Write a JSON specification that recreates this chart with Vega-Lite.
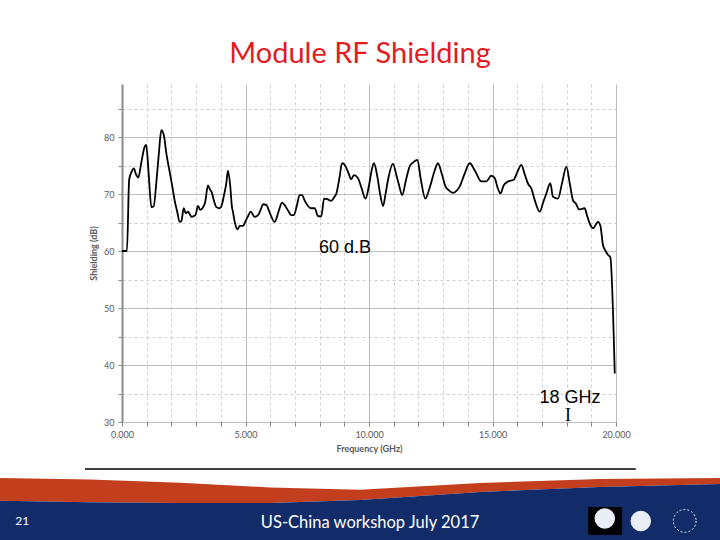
{
  "$schema": "https://vega.github.io/schema/vega-lite/v6.json",
  "background": "white",
  "padding": {"left": 0, "right": 0, "top": 40, "bottom": 0},
  "title": {"text": "Module RF Shielding", "fontSize": 29, "font": "Lato", "fontWeight": "normal", "color": "#e31b23", "anchor": "middle", "offset": 15},
  "config": {"view": {"stroke": null}, "font": "Lato"},
  "spacing": 11,
  "datasets": {
    "shielding": [
      {"f":0.00,"dB":60.0},{"f":0.20,"dB":60.0},{"f":0.29,"dB":72.5},{"f":0.38,"dB":73.8},{"f":0.48,"dB":74.5},
      {"f":0.57,"dB":73.4},{"f":0.66,"dB":72.9},{"f":0.78,"dB":75.5},{"f":0.92,"dB":78.3},{"f":0.98,"dB":78.6},
      {"f":1.08,"dB":73.5},{"f":1.19,"dB":67.7},{"f":1.28,"dB":67.8},{"f":1.40,"dB":72.5},{"f":1.50,"dB":77.5},
      {"f":1.59,"dB":81.2},{"f":1.69,"dB":80.4},{"f":1.80,"dB":77.0},{"f":1.93,"dB":73.9},{"f":2.05,"dB":71.0},
      {"f":2.13,"dB":68.9},{"f":2.24,"dB":66.8},{"f":2.33,"dB":65.1},{"f":2.40,"dB":65.2},{"f":2.50,"dB":67.5},
      {"f":2.58,"dB":66.6},{"f":2.67,"dB":66.9},{"f":2.75,"dB":66.4},{"f":2.81,"dB":66.0},{"f":2.97,"dB":66.3},
      {"f":3.08,"dB":67.9},{"f":3.17,"dB":67.2},{"f":3.27,"dB":67.6},{"f":3.37,"dB":68.6},{"f":3.48,"dB":71.5},
      {"f":3.56,"dB":70.8},{"f":3.64,"dB":70.2},{"f":3.73,"dB":68.7},{"f":3.82,"dB":67.7},{"f":3.95,"dB":67.5},
      {"f":4.05,"dB":68.2},{"f":4.13,"dB":69.8},{"f":4.22,"dB":71.8},{"f":4.29,"dB":74.1},{"f":4.38,"dB":71.5},
      {"f":4.45,"dB":67.8},{"f":4.49,"dB":66.9},{"f":4.58,"dB":64.8},{"f":4.67,"dB":63.8},{"f":4.77,"dB":64.4},
      {"f":4.90,"dB":64.4},{"f":5.00,"dB":65.2},{"f":5.10,"dB":66.1},{"f":5.21,"dB":66.9},{"f":5.37,"dB":66.0},
      {"f":5.51,"dB":66.3},{"f":5.62,"dB":67.3},{"f":5.71,"dB":68.2},{"f":5.84,"dB":68.1},{"f":6.00,"dB":66.5},
      {"f":6.18,"dB":65.1},{"f":6.33,"dB":66.8},{"f":6.48,"dB":68.5},{"f":6.61,"dB":67.9},{"f":6.75,"dB":66.9},
      {"f":6.85,"dB":66.3},{"f":6.96,"dB":66.3},{"f":7.08,"dB":68.0},{"f":7.19,"dB":69.8},{"f":7.29,"dB":69.8},
      {"f":7.40,"dB":68.8},{"f":7.53,"dB":67.9},{"f":7.65,"dB":67.5},{"f":7.80,"dB":67.5},{"f":7.94,"dB":66.1},
      {"f":8.07,"dB":66.1},{"f":8.18,"dB":69.2},{"f":8.31,"dB":69.1},{"f":8.47,"dB":68.8},{"f":8.60,"dB":69.5},
      {"f":8.68,"dB":70.1},{"f":8.81,"dB":73.0},{"f":8.90,"dB":75.3},{"f":8.95,"dB":75.4},{"f":9.04,"dB":74.9},
      {"f":9.15,"dB":73.9},{"f":9.28,"dB":72.6},{"f":9.39,"dB":73.3},{"f":9.55,"dB":72.8},{"f":9.70,"dB":71.0},
      {"f":9.86,"dB":69.2},{"f":10.00,"dB":71.5},{"f":10.10,"dB":74.0},{"f":10.20,"dB":75.4},{"f":10.34,"dB":73.0},
      {"f":10.45,"dB":70.0},{"f":10.57,"dB":67.9},{"f":10.67,"dB":70.0},{"f":10.77,"dB":72.5},{"f":10.97,"dB":75.3},
      {"f":11.11,"dB":73.3},{"f":11.22,"dB":71.5},{"f":11.34,"dB":69.8},{"f":11.50,"dB":72.5},{"f":11.65,"dB":74.9},
      {"f":11.80,"dB":75.6},{"f":11.96,"dB":76.0},{"f":12.10,"dB":72.5},{"f":12.28,"dB":69.2},{"f":12.45,"dB":71.0},
      {"f":12.65,"dB":74.0},{"f":12.79,"dB":75.4},{"f":12.95,"dB":73.5},{"f":13.09,"dB":71.4},{"f":13.25,"dB":70.6},
      {"f":13.40,"dB":70.2},{"f":13.55,"dB":70.6},{"f":13.67,"dB":71.3},{"f":13.85,"dB":73.3},{"f":14.08,"dB":75.4},
      {"f":14.30,"dB":74.0},{"f":14.55,"dB":72.2},{"f":14.75,"dB":72.2},{"f":14.95,"dB":73.2},{"f":15.09,"dB":72.8},
      {"f":15.20,"dB":71.2},{"f":15.32,"dB":70.1},{"f":15.45,"dB":71.5},{"f":15.63,"dB":72.2},{"f":15.86,"dB":72.5},
      {"f":16.00,"dB":73.8},{"f":16.17,"dB":75.1},{"f":16.30,"dB":73.5},{"f":16.44,"dB":71.8},{"f":16.57,"dB":71.0},
      {"f":16.72,"dB":68.8},{"f":16.91,"dB":66.9},{"f":17.05,"dB":68.5},{"f":17.18,"dB":70.1},{"f":17.34,"dB":71.9},
      {"f":17.45,"dB":69.5},{"f":17.65,"dB":69.2},{"f":17.82,"dB":72.0},{"f":17.99,"dB":74.8},{"f":18.13,"dB":71.8},
      {"f":18.26,"dB":68.9},{"f":18.38,"dB":68.3},{"f":18.50,"dB":67.3},{"f":18.73,"dB":67.5},{"f":18.83,"dB":66.2},
      {"f":18.91,"dB":65.1},{"f":19.07,"dB":64.0},{"f":19.27,"dB":65.1},{"f":19.37,"dB":64.4},{"f":19.47,"dB":61.1},
      {"f":19.58,"dB":60.0},{"f":19.68,"dB":59.3},{"f":19.77,"dB":58.9},{"f":19.95,"dB":38.5}
    ],
    "notesSans": [
      {"f": 9.03, "dB": 59.7, "label": "60 d.B"},
      {"f": 18.14, "dB": 33.4, "label": "18 GHz"}
    ],
    "notesSerif": [
      {"f": 18.06, "dB": 30.2, "label": "I"}
    ],
    "footerLine": [{"x": 0.118, "x2": 0.883, "y": 0.064}],
    "swoosh": [
      {"x": 0.0, "redTop": 0.18, "blueTop": 0.47, "bottom": 1},
      {"x": 0.125, "redTop": 0.2, "blueTop": 0.49, "bottom": 1},
      {"x": 0.25, "redTop": 0.24, "blueTop": 0.5, "bottom": 1},
      {"x": 0.375, "redTop": 0.3, "blueTop": 0.5, "bottom": 1},
      {"x": 0.5, "redTop": 0.33, "blueTop": 0.462, "bottom": 1},
      {"x": 0.667, "redTop": 0.244, "blueTop": 0.359, "bottom": 1},
      {"x": 0.833, "redTop": 0.192, "blueTop": 0.295, "bottom": 1},
      {"x": 1.0, "redTop": 0.179, "blueTop": 0.256, "bottom": 1}
    ],
    "footerBig": [{"x": 0.514, "y": 0.82, "label": "US-China workshop July 2017"}],
    "footerSmall": [{"x": 0.031, "y": 0.78, "label": "21"}],
    "logoBox": [{"x": 0.817, "x2": 0.864, "y": 0.551, "y2": 0.91}],
    "logoWhite": [{"x": 0.84, "y": 0.7}, {"x": 0.89, "y": 0.73}],
    "logoRing": [{"x": 0.951, "y": 0.73}],
    "empty": []
  },
  "vconcat": [
    {
      "spacing": 0,
      "hconcat": [
        {
          "width": 89,
          "height": 20,
          "data": {"name": "empty"},
          "mark": {"type": "point"},
          "encoding": {}
        },
        {
          "width": 494,
          "height": 338,
          "encoding": {
            "x": {
              "field": "f", "type": "quantitative",
              "scale": {"domain": [0, 20], "nice": false, "zero": false},
              "axis": {
                "title": "Frequency (GHz)",
                "values": [0,1,2,3,4,5,6,7,8,9,10,11,12,13,14,15,16,17,18,19,20],
                "labelExpr": "datum.value % 5 === 0 ? format(datum.value, '.3f') : ''",
                "labelOverlap": false, "labelFlush": false,
                "labelFont": "Lato", "labelFontSize": 9, "labelColor": "#595959", "labelPadding": 4,
                "titleFont": "Lato", "titleFontSize": 9, "titleFontWeight": "bold", "titleColor": "#595959", "titlePadding": 5,
                "domain": false,
                "ticks": true, "tickSize": 4, "tickColor": "#808080",
                "grid": true,
                "gridColor": {"condition": {"test": "datum.value % 5 === 0", "value": "#a6a6a6"}, "value": "#cfcfcf"},
                "gridDash": {"condition": {"test": "datum.value % 5 === 0", "value": [1, 0]}, "value": [3, 3]}
              }
            },
            "y": {
              "field": "dB", "type": "quantitative",
              "scale": {"domain": [30, 89.3], "nice": false, "zero": false},
              "axis": {
                "title": "Shielding (dB)",
                "values": [30,35,40,45,50,55,60,65,70,75,80,85],
                "labelExpr": "datum.value % 10 === 0 ? '' + datum.value : ''",
                "labelOverlap": false,
                "labelFont": "Lato", "labelFontSize": 9, "labelColor": "#595959", "labelPadding": 4,
                "titleFont": "Lato", "titleFontSize": 9, "titleFontWeight": "bold", "titleColor": "#595959", "titlePadding": 5,
                "domain": true, "domainColor": "#8c8c8c", "domainWidth": 2,
                "ticks": true, "tickSize": 4, "tickColor": "#8c8c8c",
                "grid": true,
                "gridColor": {"condition": {"test": "datum.value % 10 === 0", "value": "#a6a6a6"}, "value": "#cfcfcf"},
                "gridDash": {"condition": {"test": "datum.value % 10 === 0", "value": [1, 0]}, "value": [3, 3]}
              }
            }
          },
          "layer": [
            {
              "data": {"name": "shielding"},
              "mark": {"type": "line", "color": "black", "strokeWidth": 1.8, "interpolate": "monotone"}
            },
            {
              "data": {"name": "notesSans"},
              "mark": {"type": "text", "font": "Liberation Sans", "fontSize": 18, "color": "black", "align": "center", "baseline": "alphabetic"},
              "encoding": {"text": {"field": "label"}}
            },
            {
              "data": {"name": "notesSerif"},
              "mark": {"type": "text", "font": "Liberation Serif", "fontSize": 18, "color": "black", "align": "center", "baseline": "alphabetic"},
              "encoding": {"text": {"field": "label"}}
            }
          ]
        }
      ]
    },
    {
      "width": 720,
      "height": 78,
      "encoding": {
        "x": {"field": "x", "type": "quantitative", "scale": {"domain": [0, 1], "nice": false, "zero": false}, "axis": null},
        "y": {"field": "y", "type": "quantitative", "scale": {"domain": [0, 1], "nice": false, "zero": false, "reverse": true}, "axis": null}
      },
      "layer": [
        {
          "data": {"name": "swoosh"},
          "mark": {"type": "area", "color": "#c23e1c"},
          "encoding": {"y": {"field": "redTop", "type": "quantitative"}, "y2": {"field": "blueTop"}}
        },
        {
          "data": {"name": "swoosh"},
          "mark": {"type": "area", "color": "#112c69"},
          "encoding": {"y": {"field": "blueTop", "type": "quantitative"}, "y2": {"field": "bottom"}}
        },
        {
          "data": {"name": "footerLine"},
          "mark": {"type": "rule", "color": "black", "strokeWidth": 1.5},
          "encoding": {"x2": {"field": "x2"}}
        },
        {
          "data": {"name": "logoBox"},
          "mark": {"type": "rect", "color": "black"},
          "encoding": {"x2": {"field": "x2"}, "y2": {"field": "y2"}}
        },
        {
          "data": {"name": "logoWhite"},
          "mark": {"type": "point", "shape": "circle", "filled": true, "color": "#e9edf5", "size": 420, "opacity": 1}
        },
        {
          "data": {"name": "logoRing"},
          "mark": {"type": "point", "shape": "circle", "filled": false, "color": "#e9edf5", "size": 520, "strokeDash": [2, 2], "strokeWidth": 1, "opacity": 1}
        },
        {
          "data": {"name": "footerBig"},
          "mark": {"type": "text", "font": "Lato", "fontSize": 16.5, "color": "white", "align": "center", "baseline": "alphabetic"},
          "encoding": {"text": {"field": "label"}}
        },
        {
          "data": {"name": "footerSmall"},
          "mark": {"type": "text", "font": "Lato", "fontSize": 12, "color": "white", "align": "center", "baseline": "alphabetic"},
          "encoding": {"text": {"field": "label"}}
        }
      ]
    }
  ]
}
